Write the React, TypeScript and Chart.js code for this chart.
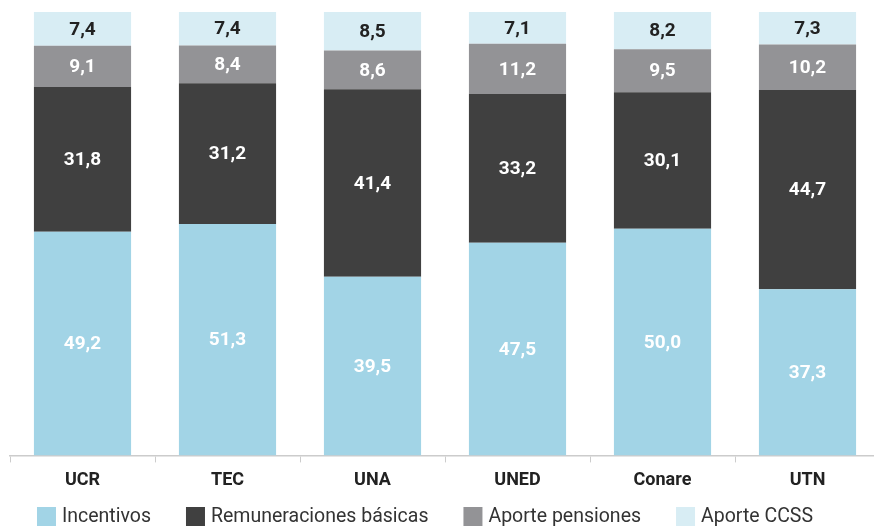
import React, { useEffect, useRef } from "react";
import { Chart, registerables } from "chart.js";

Chart.register(...registerables);

const categories = ["UCR", "TEC", "UNA", "UNED", "Conare", "UTN"];
const incentivos = [49.2, 51.3, 39.5, 47.5, 50.0, 37.3];
const remuneraciones = [31.8, 31.2, 41.4, 33.2, 30.1, 44.7];
const pensiones = [9.1, 8.4, 8.6, 11.2, 9.5, 10.2];
const ccss = [7.4, 7.4, 8.5, 7.1, 8.2, 7.3];

const seriesNames = ["Incentivos", "Remuneraciones básicas", "Aporte pensiones", "Aporte CCSS"];
const seriesColors = ["#a2d4e6", "#404040", "#939396", "#d8edf4"];
const labelColors = ["#ffffff", "#ffffff", "#ffffff", "#222222"];

const FONT = "Roboto, 'Noto Sans', sans-serif";

const fmt = (v: number) => v.toFixed(1).replace(".", ",");

export default function App() {
  const ref = useRef<HTMLCanvasElement | null>(null);

  useEffect(() => {
    const raw = [incentivos, remuneraciones, pensiones, ccss];
    const totals = categories.map((_, i) => raw.reduce((s, arr) => s + arr[i], 0));
    const labelPlugin = {
      id: "segLabels",
      afterDatasetsDraw(chart: any) {
        const ctx = chart.ctx;
        ctx.save();
        ctx.textAlign = "center";
        ctx.textBaseline = "middle";
        chart.data.datasets.forEach((ds: any, di: number) => {
          const meta = chart.getDatasetMeta(di);
          meta.data.forEach((bar: any, i: number) => {
            const v = raw[di][i];
            const y = (bar.y + bar.base) / 2;
            ctx.fillStyle = labelColors[di];
            ctx.font = `bold 19px ${FONT}`;
            ctx.fillText(fmt(v), bar.x, y + 1);
          });
        });
        ctx.restore();
      },
    };
    const legendPlugin = {
      id: "customLegend",
      afterDraw(chart: any) {
        const ctx = chart.ctx;
        ctx.save();
        ctx.font = `19.5px ${FONT}`;
        ctx.textBaseline = "middle";
        ctx.textAlign = "left";
        const box = 19;
        const gapText = 6;
        const gapItem = 35;
        const widths = seriesNames.map((n) => box + gapText + ctx.measureText(n).width);
        const total = widths.reduce((a, b) => a + b, 0) + gapItem * (seriesNames.length - 1);
        let x = 425 - total / 2;
        const cy = 516;
        seriesNames.forEach((n, i) => {
          ctx.fillStyle = seriesColors[i];
          ctx.fillRect(x, cy - 9, box, box);
          ctx.fillStyle = "#333333";
          ctx.fillText(n, x + box + gapText, cy + 1);
          x += widths[i] + gapItem;
        });
        ctx.restore();
      },
    };
    const chart = new Chart(ref.current as HTMLCanvasElement, {
      type: "bar",
      data: {
        labels: categories,
        datasets: raw.map((arr, di) => ({
          label: seriesNames[di],
          data: arr.map((v, i) => (v / totals[i]) * 100),
          backgroundColor: seriesColors[di],
          borderWidth: 0,
          barPercentage: 0.67,
          categoryPercentage: 1,
        })),
      },
      options: {
        responsive: false,
        animation: false,
        layout: { padding: { left: 10, right: 0, top: 12, bottom: 29 } },
        plugins: {
          tooltip: { enabled: false },
          legend: { display: false },
        },
        scales: {
          x: {
            stacked: true,
            offset: true,
            grid: {
              offset: true,
              drawOnChartArea: false,
              drawTicks: true,
              tickLength: 7,
              color: "#cccccc",
            },
            border: { color: "#cccccc", width: 1.5 },
            ticks: {
              color: "#222222",
              padding: 7,
              font: { family: FONT, size: 18, weight: "bold" },
            },
          },
          y: {
            stacked: true,
            display: false,
            min: 0,
            max: 100,
          },
        },
      },
      plugins: [labelPlugin, legendPlugin],
    } as any);
    return () => chart.destroy();
  }, []);

  return (
    <div style={{ position: "fixed", left: 0, top: 0, width: 874, height: 527, overflow: "hidden", background: "#fff" }}>
      <canvas ref={ref} width={880} height={527} style={{ width: 880, height: 527, display: "block" }} />
    </div>
  );
}
